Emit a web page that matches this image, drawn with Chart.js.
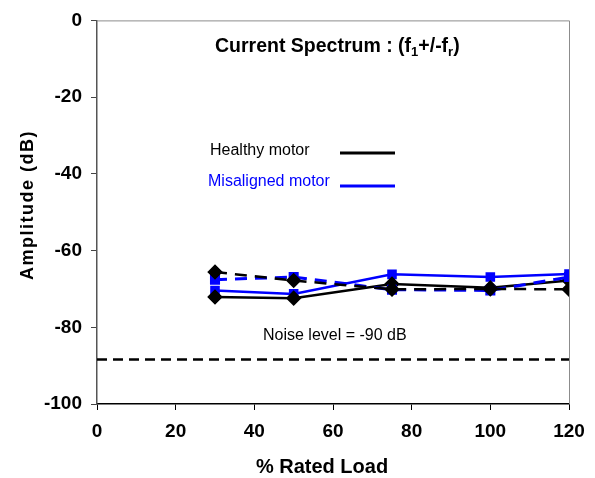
<!DOCTYPE html>
<html>
<head>
<meta charset="utf-8">
<script src="https://cdn.jsdelivr.net/npm/chart.js@4/dist/chart.umd.min.js"></script>
<style>
html,body{margin:0;padding:0;background:#fff;}
#wrap{width:595px;height:478px;}
</style>
</head>
<body>
<div id="wrap"><canvas id="c" width="595" height="478"></canvas></div>
<script>
// ---- data ----
const loads = [30, 50, 75, 100, 120];
const healthySolid = [-72.1, -72.4, -68.7, -69.7, -67.8];
const healthyDashed = [-65.6, -67.8, -70.1, -70.0, -70.1];
const misalignedSolid = [-70.4, -71.3, -66.2, -66.9, -66.1];
const misalignedDashed = [-67.6, -66.9, -70.2, -70.4, -66.9];
const noiseX = [0, 120];
const noiseY = [-88.4, -88.4];
const xTicks = [0, 20, 40, 60, 80, 100, 120];
const yTicks = [0, -20, -40, -60, -80, -100];

const pts = (xs, ys) => xs.map((x, i) => ({x: x, y: ys[i]}));
const FONT = '"Liberation Sans", Arial, sans-serif';
const BLUE = '#0000ff';

const textPlugin = {
  id: 'texts',
  afterDraw(chart) {
    const ctx = chart.ctx;
    const a = chart.chartArea;
    ctx.save();
    // top and right frame
    ctx.strokeStyle = '#8c8c8c';
    ctx.lineWidth = 1;
    ctx.beginPath();
    ctx.moveTo(a.left, a.top + 0.5);
    ctx.lineTo(a.right + 0.5, a.top + 0.5);
    ctx.lineTo(a.right + 0.5, a.bottom);
    ctx.stroke();

    // title with subscripts
    ctx.fillStyle = '#000';
    ctx.textBaseline = 'alphabetic';
    ctx.textAlign = 'left';
    const parts = [
      ['Current Spectrum : (f', false], ['1', true], ['+/-f', false], ['r', true], [')', false]
    ];
    let tx = 215, ty = 52;
    parts.forEach(([s, sub]) => {
      ctx.font = sub ? 'bold 13px ' + FONT : 'bold 19.5px ' + FONT;
      ctx.fillText(s, tx, sub ? ty + 4 : ty);
      tx += ctx.measureText(s).width;
    });

    // legend-like labels
    ctx.font = '16px ' + FONT;
    ctx.textBaseline = 'middle';
    ctx.fillStyle = '#000';
    ctx.fillText('Healthy motor', 210, 151);
    ctx.fillStyle = BLUE;
    ctx.fillText('Misaligned motor', 208, 182);
    ctx.lineWidth = 3;
    ctx.strokeStyle = '#000';
    ctx.beginPath(); ctx.moveTo(340, 153); ctx.lineTo(395, 153); ctx.stroke();
    ctx.strokeStyle = BLUE;
    ctx.beginPath(); ctx.moveTo(340, 186); ctx.lineTo(395, 186); ctx.stroke();

    // noise label
    ctx.fillStyle = '#000';
    ctx.font = '16px ' + FONT;
    ctx.fillText('Noise level = -90 dB', 263, 336);

    // x axis title
    ctx.font = 'bold 20px ' + FONT;
    ctx.textAlign = 'center';
    ctx.fillText('% Rated Load', 322, 467);

    // y axis title with letter spacing
    ctx.font = 'bold 18px ' + FONT;
    try { ctx.letterSpacing = '1.5px'; } catch (e) {}
    ctx.translate(28, 205);
    ctx.rotate(-Math.PI / 2);
    ctx.textAlign = 'center';
    ctx.textBaseline = 'middle';
    ctx.fillText('Amplitude (dB)', 0, 0);
    ctx.restore();
  }
};

new Chart(document.getElementById('c'), {
  type: 'line',
  data: {
    datasets: [
      {label: 'Noise level', data: pts(noiseX, noiseY), borderColor: '#000', borderWidth: 2.5,
       borderDash: [10, 6], pointRadius: 0, fill: false},
      {label: 'Healthy dashed', data: pts(loads, healthyDashed), borderColor: '#000', borderWidth: 2.5,
       borderDash: [12, 8], pointStyle: 'rectRot', pointRadius: 6, pointBackgroundColor: '#000', pointBorderColor: '#000'},
      {label: 'Misaligned dashed', data: pts(loads, misalignedDashed), borderColor: BLUE, borderWidth: 3,
       borderDash: [12, 8], pointStyle: 'rect', pointRadius: 5, pointBackgroundColor: BLUE, pointBorderColor: BLUE},
      {label: 'Healthy motor', data: pts(loads, healthySolid), borderColor: '#000', borderWidth: 2.5,
       pointStyle: 'rectRot', pointRadius: 6, pointBackgroundColor: '#000', pointBorderColor: '#000'},
      {label: 'Misaligned motor', data: pts(loads, misalignedSolid), borderColor: BLUE, borderWidth: 2.5,
       pointStyle: 'rect', pointRadius: 5, pointBackgroundColor: BLUE, pointBorderColor: BLUE}
    ]
  },
  options: {
    responsive: false,
    animation: false,
    devicePixelRatio: 1,
    layout: {padding: {top: 19, right: 26, left: 0, bottom: 0}},
    plugins: {legend: {display: false}, tooltip: {enabled: false}},
    elements: {line: {tension: 0}},
    scales: {
      x: {
        type: 'linear', min: 0, max: 120,
        afterBuildTicks: s => { s.ticks = xTicks.map(v => ({value: v})); },
        afterFit: s => { s.height = 74; },
        ticks: {color: '#000', font: {family: FONT, size: 19, weight: 'bold'}, padding: 10, maxRotation: 0},
        grid: {drawOnChartArea: false, drawTicks: true, tickLength: 6, color: '#000', lineWidth: 1},
        border: {color: '#000', width: 1.5}
      },
      y: {
        type: 'linear', min: -100, max: 0,
        afterBuildTicks: s => { s.ticks = yTicks.map(v => ({value: v})); },
        afterFit: s => { s.width = 97; },
        ticks: {color: '#000', font: {family: FONT, size: 19, weight: 'bold'}, padding: 9},
        grid: {drawOnChartArea: false, drawTicks: true, tickLength: 6, color: '#444', lineWidth: 1},
        border: {color: '#555', width: 1.5}
      }
    }
  },
  plugins: [textPlugin]
});
</script>
</body>
</html>
